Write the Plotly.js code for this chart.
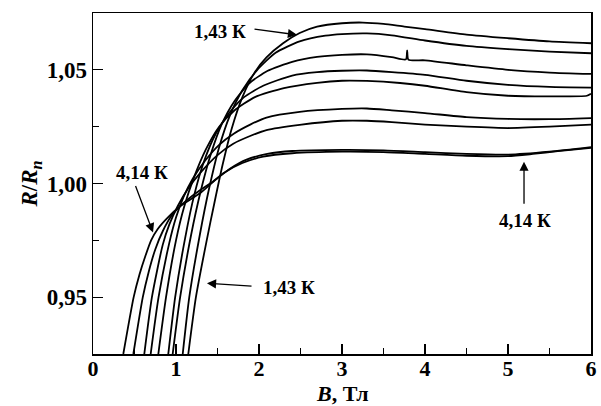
<!DOCTYPE html>
<html>
<head>
<meta charset="utf-8">
<script src="https://cdn.plot.ly/plotly-3.0.1.min.js"></script>
<style>html,body{margin:0;padding:0;background:#fff;}#chart{width:601px;height:406px;}</style>
</head>
<body>
<div id="chart"></div>
<script>
// Curves from 1.43 K (highest plateau) to 4.14 K (lowest plateau)
const curveLabels = ['1,43 К', 'T2', 'T3', 'T4', 'T5', 'T6', 'T7', 'T8', '4,14 К'];

const x1 = [1.148,1.24,1.37,1.46,1.56,1.67,1.80,1.95,2.09,2.29,2.49,2.70,3.00,3.25,3.50,3.75,4.00,4.50,5.00,5.50,6.00];
const y1 = [0.925,0.950,0.975,0.991,1.008,1.024,1.038,1.049,1.0555,1.0617,1.0662,1.069,1.0705,1.0708,1.0702,1.069,1.0679,1.0655,1.0639,1.0625,1.0617];

const x2 = [1.081,1.16,1.29,1.40,1.52,1.65,1.80,1.98,2.20,2.49,2.80,3.00,3.30,3.60,4.00,4.50,5.00,5.50,6.00];
const y2 = [0.925,0.950,0.978,0.998,1.016,1.030,1.041,1.050,1.0575,1.0625,1.065,1.0657,1.066,1.0652,1.0629,1.0605,1.0591,1.058,1.0573];

const x3 = [0.96,1.05,1.18,1.30,1.42,1.55,1.70,1.88,2.10,2.40,2.70,3.00,3.30,3.60,3.77,3.785,3.80,4.00,4.50,5.00,5.50,6.00];
const y3 = [0.925,0.950,0.977,0.997,1.013,1.026,1.036,1.044,1.0495,1.0535,1.0557,1.0566,1.0568,1.0556,1.0546,1.0585,1.0545,1.0542,1.052,1.050,1.0488,1.0482];

const x4 = [0.907,0.99,1.11,1.22,1.34,1.48,1.64,1.82,2.05,2.40,2.70,3.00,3.30,3.60,4.00,4.50,5.00,5.50,6.00];
const y4 = [0.925,0.950,0.976,0.995,1.010,1.022,1.031,1.038,1.043,1.0475,1.049,1.0496,1.0497,1.049,1.0478,1.0452,1.0434,1.0425,1.0422];

const x5 = [0.787,0.88,1.00,1.10,1.22,1.36,1.52,1.70,1.95,2.30,2.70,3.00,3.30,3.70,4.00,4.50,5.00,5.50,5.95,6.00];
const y5 = [0.925,0.950,0.975,0.990,1.003,1.015,1.025,1.032,1.038,1.042,1.0443,1.0452,1.0451,1.0442,1.043,1.0402,1.0386,1.0383,1.0386,1.0395];

const x6 = [0.695,0.79,0.92,1.00,1.09,1.20,1.35,1.52,1.70,1.90,2.09,2.49,3.00,3.30,3.60,4.00,4.50,5.00,5.50,6.00];
const y6 = [0.925,0.950,0.974,0.985,0.994,1.002,1.010,1.017,1.022,1.026,1.029,1.0315,1.0328,1.033,1.0322,1.031,1.0292,1.0284,1.0283,1.0288];

const x7 = [0.618,0.71,0.84,0.92,1.02,1.15,1.30,1.50,1.69,1.90,2.09,2.49,3.00,3.30,3.60,4.00,4.50,5.00,5.50,6.00];
const y7 = [0.925,0.950,0.973,0.982,0.990,0.998,1.005,1.0125,1.0175,1.021,1.0235,1.0258,1.0276,1.0276,1.027,1.0259,1.025,1.0244,1.025,1.0259];

const x8 = [0.486,0.60,0.67,0.75,0.84,0.95,1.08,1.25,1.45,1.65,1.85,2.10,2.40,3.00,3.50,4.00,4.50,5.00,5.50,6.00];
const y8 = [0.925,0.950,0.961,0.971,0.979,0.986,0.991,0.996,1.001,1.0065,1.0105,1.013,1.0143,1.0148,1.0146,1.0138,1.013,1.0127,1.014,1.016];

const x9 = [0.365,0.49,0.56,0.63,0.70,0.78,0.90,1.05,1.30,1.57,1.80,2.05,2.40,3.00,3.50,4.00,4.50,5.00,5.30,5.60,6.00];
const y9 = [0.925,0.950,0.960,0.968,0.975,0.980,0.985,0.990,0.996,1.0045,1.009,1.0118,1.0133,1.014,1.0138,1.013,1.0122,1.012,1.013,1.0142,1.0157];

const xTickVals = [0,1,2,3,4,5,6];
const xTickText = ['0','1','2','3','4','5','6'];
const yTickVals = [0.95,1.00,1.05];
const yTickText = ['0,95','1,00','1,05'];

const xs = [x1,x2,x3,x4,x5,x6,x7,x8,x9];
const ys = [y1,y2,y3,y4,y5,y6,y7,y8,y9];

const traces = xs.map((xv,i) => ({
  x: xv, y: ys[i], type: 'scatter', mode: 'lines', name: curveLabels[i],
  line: {color: '#000', width: 1.8, shape: 'spline', smoothing: 0.6},
  hoverinfo: 'skip', showlegend: false
}));

const serif = 'Liberation Serif, Times New Roman, serif';
const annFont = {family: serif, size: 19, color: '#000', weight: 700};

function arrow(xTip, yTip, xTail, yTail){
  return {x: xTip, y: yTip, ax: xTail, ay: yTail, xref:'x', yref:'y', axref:'x', ayref:'y',
    text: '', showarrow: true, arrowhead: 2, arrowsize: 1.4, arrowwidth: 1.3, arrowcolor: '#000', standoff: 0};
}
function label(xc, yc, txt){
  return {x: xc, y: yc, xref:'x', yref:'y', text: '<b>'+txt+'</b>', showarrow: false, font: annFont};
}

const layout = {
  width: 601, height: 406,
  margin: {l: 93, r: 10, t: 13, b: 52},
  paper_bgcolor: '#fff', plot_bgcolor: '#fff',
  font: {family: serif, color: '#000'},
  xaxis: {
    range: [0, 6], tickvals: xTickVals, ticktext: xTickText,
    ticks: 'inside', ticklen: 10, tickwidth: 1.3, tickcolor: '#000',
    minor: {dtick: 0.5, tick0: 0, ticks: 'inside', ticklen: 6, tickwidth: 1.2, tickcolor: '#000', showgrid: false},
    showline: true, linewidth: 1.5, linecolor: '#000', mirror: true,
    showgrid: false, zeroline: false, ticklabelstandoff: -6,
    tickfont: {family: serif, size: 22, color: '#000', weight: 700}
  },
  yaxis: {
    range: [0.925, 1.075], tickvals: yTickVals, ticktext: yTickText,
    ticks: 'inside', ticklen: 10, tickwidth: 1.3, tickcolor: '#000',
    minor: {dtick: 0.025, tick0: 0, ticks: 'inside', ticklen: 6, tickwidth: 1.2, tickcolor: '#000', showgrid: false},
    showline: true, linewidth: 1.5, linecolor: '#000', mirror: true,
    showgrid: false, zeroline: false,
    tickfont: {family: serif, size: 23, color: '#000', weight: 700},
    title: {text: '<b><i>R</i>/<i>R</i><sub><i>n</i></sub></b>', font: {family: serif, size: 23, color: '#000'}, standoff: 2}
  },
  annotations: [
    {x: 0.5, y: -0.117, xref: 'paper', yref: 'paper', xanchor: 'center', yanchor: 'middle',
     text: '<b><i>B</i>, Тл</b>', showarrow: false, font: {family: serif, size: 22, color: '#000'}},
    label(1.53, 1.0667, '1,43 К'),
    arrow(2.458, 1.0654, 1.928, 1.068),
    label(0.596, 1.0048, '4,14 К'),
    arrow(0.723, 0.9785, 0.506, 0.9996),
    label(2.36, 0.9543, '1,43 К'),
    arrow(1.373, 0.9561, 1.928, 0.9548),
    label(5.205, 0.9836, '4,14 К'),
    arrow(5.193, 1.0096, 5.193, 0.9904)
  ]
};

Plotly.newPlot('chart', traces, layout, {staticPlot: true, displayModeBar: false});
</script>
</body>
</html>
